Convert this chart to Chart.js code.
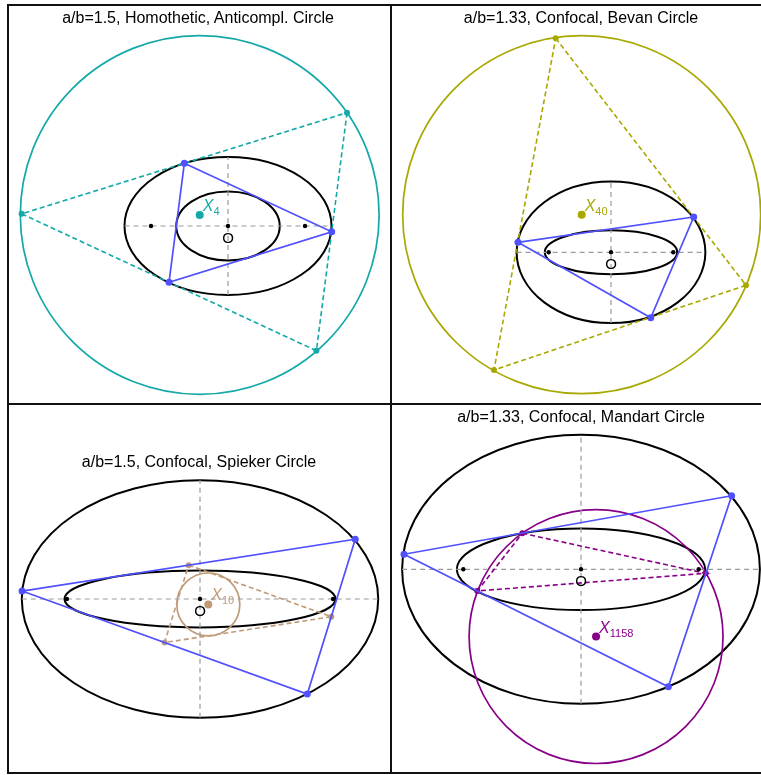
<!DOCTYPE html>
<html>
<head>
<meta charset="utf-8">
<script src="https://cdn.jsdelivr.net/npm/chart.js@4"></script>
<style>
  body { margin:0; background:#fff; width:761px; height:775px; overflow:hidden; position:relative;
         font-family:"Liberation Sans", Arial, sans-serif; }
  .rule { position:absolute; background:#111; }
  .panel { position:absolute; }
  .title { position:absolute; width:400px; text-align:center; font-size:16px; line-height:18px; color:#000; }
</style>
</head>
<body>

<script>
// ---- data (ellipse-centred units, b = 1) ----
const titles = [
  'a/b=1.5, Homothetic, Anticompl. Circle',
  'a/b=1.33, Confocal, Bevan Circle',
  'a/b=1.5, Confocal, Spieker Circle',
  'a/b=1.33, Confocal, Mandart Circle'
];

// panel 1 - homothetic pair, anticomplementary triangle
const homTri      = [[-0.633, 0.909], [1.503, -0.083], [-0.855, -0.816]];
const homAnti     = [[1.725, 1.642], [1.281, -1.808], [-2.991, 0.176]];
const homEllipses = [[1.5, 1], [0.75, 0.5]];
const homFoci     = [[-1.116, 0], [1.116, 0]];
const homCircle   = [-0.41, 0.16, 2.6];

// panel 2 - confocal pair, excentral triangle
const bevTri      = [[-1.314, 0.141], [1.168, 0.499], [0.561, -0.924]];
const bevExc      = [[-0.781, 3.023], [1.907, -0.466], [-1.653, -1.662]];
const bevEllipses = [[1.333, 1], [0.935, 0.31]];
const bevFoci     = [[-0.88, 0], [0.88, 0]];
const bevCircle   = [-0.414, 0.531, 2.528];

// panel 3 - confocal pair, medial triangle
const spiTri      = [[-1.498, 0.067], [1.307, 0.503], [0.903, -0.8]];
const spiMed      = [[-0.096, 0.285], [1.105, -0.149], [-0.298, -0.367]];
const spiEllipses = [[1.5, 1], [1.141, 0.239]];
const spiFoci     = [[-1.12, 0], [1.12, 0]];
const spiCircle   = [0.07, -0.046, 0.265];

// panel 4 - confocal pair, extouch triangle
const manTri      = [[-1.316, 0.112], [1.12, 0.547], [0.649, -0.873]];
const manExt      = [[-0.436, 0.268], [0.927, -0.03], [-0.771, -0.161]];
const manEllipses = [[1.33, 1], [0.923, 0.303]];
const manFoci     = [[-0.875, 0], [0.875, 0]];
const manCircle   = [0.112, -0.5, 0.944];

// ---- layout ----
const BLUE = '#5050ff';
const panels = [
  { box:[9, 6, 381, 397],   o:[228, 226],   s:69,    title:[198, 18],
    tri:homTri, aux:homAnti, ell:homEllipses, foci:homFoci, circ:homCircle,
    color:'#14a8a8', lab:'X', sub:'4' },
  { box:[392, 6, 369, 397], o:[611, 252.3], s:70.8,  title:[581, 18],
    tri:bevTri, aux:bevExc, ell:bevEllipses, foci:bevFoci, circ:bevCircle,
    color:'#a8a800', lab:'X', sub:'40' },
  { box:[9, 405, 381, 367], o:[200, 599],   s:118.8, title:[199, 462],
    tri:spiTri, aux:spiMed, ell:spiEllipses, foci:spiFoci, circ:spiCircle,
    color:'#bf9b77', lab:'X', sub:'10' },
  { box:[392, 405, 369, 367], o:[581, 569.3], s:134.5, title:[581, 417],
    tri:manTri, aux:manExt, ell:manEllipses, foci:manFoci, circ:manCircle,
    color:'#870087', lab:'X', sub:'1158' }
];

// frame rules
[[7, 4, 754, 2], [7, 4, 2, 770], [390, 4, 2, 770], [7, 403, 754, 2], [7, 772, 754, 2]]
  .forEach(([l, t, w, h]) => {
    const d = document.createElement('div');
    d.className = 'rule';
    d.style.cssText = `left:${l}px;top:${t}px;width:${w}px;height:${h}px`;
    document.body.appendChild(d);
  });

const pts = arr => arr.map(([x, y]) => ({ x, y }));
const loop = arr => pts([...arr, arr[0]]);

// conics + labels drawn through the chart scales
const geoPlugin = {
  id: 'geo',
  beforeDatasetsDraw(chart, args, opts) {
    const { ctx, chartArea, scales: { x, y } } = chart;
    ctx.save();
    ctx.beginPath();
    ctx.rect(chartArea.left, chartArea.top, chartArea.width, chartArea.height);
    ctx.clip();
    for (const c of opts.conics || []) {
      const cx = x.getPixelForValue(c.cx), cy = y.getPixelForValue(c.cy);
      const rx = Math.abs(x.getPixelForValue(c.cx + c.rx) - cx);
      const ry = Math.abs(y.getPixelForValue(c.cy + c.ry) - cy);
      ctx.beginPath();
      ctx.ellipse(cx, cy, rx, ry, 0, 0, Math.PI * 2);
      ctx.strokeStyle = c.color;
      ctx.lineWidth = c.width;
      ctx.stroke();
    }
    ctx.restore();
  },
  afterDatasetsDraw(chart, args, opts) {
    const { ctx, scales: { x, y } } = chart;
    ctx.save();
    for (const l of opts.labels || []) {
      const px = x.getPixelForValue(l.x) + l.dx, py = y.getPixelForValue(l.y) + l.dy;
      ctx.fillStyle = l.color;
      ctx.textBaseline = 'alphabetic';
      ctx.font = (l.italic ? 'italic ' : '') + l.size + 'px "Liberation Sans", Arial, sans-serif';
      ctx.textAlign = l.align || 'left';
      ctx.fillText(l.text, px, py);
      if (l.sub) {
        const w = ctx.measureText(l.text).width;
        ctx.font = '11px "Liberation Sans", Arial, sans-serif';
        ctx.textAlign = 'left';
        ctx.fillText(l.sub, px + w, py + 4);
      }
    }
    ctx.restore();
  }
};

panels.forEach((p, i) => {
  const [left, top, w, h] = p.box;
  const wrap = document.createElement('div');
  wrap.className = 'panel';
  wrap.style.cssText = `left:${left}px;top:${top}px;width:${w}px;height:${h}px`;
  const cv = document.createElement('canvas');
  cv.width = w; cv.height = h;
  cv.style.width = w + 'px'; cv.style.height = h + 'px';
  wrap.appendChild(cv);
  document.body.appendChild(wrap);

  const t = document.createElement('div');
  t.className = 'title';
  t.style.left = (p.title[0] - 200) + 'px';
  t.style.top = (p.title[1] - 9) + 'px';
  t.textContent = titles[i];
  document.body.appendChild(t);

  const [ox, oy] = p.o;
  const xMin = (left - ox) / p.s, xMax = (left + w - ox) / p.s;
  const yMax = (oy - top) / p.s, yMin = (oy - top - h) / p.s;
  const [A, B] = p.ell[0];
  const [cx, cy, r] = p.circ;

  new Chart(cv, {
    type: 'scatter',
    data: {
      datasets: [
        { data: [{ x: cx, y: cy }], pointRadius: 4, backgroundColor: p.color, borderWidth: 0 },
        { data: pts([[0, 0], ...p.foci]), pointRadius: 2.2, backgroundColor: '#000', borderWidth: 0 },
        { data: pts(p.tri), pointRadius: 3.5, backgroundColor: BLUE, borderWidth: 0 },
        { data: loop(p.tri), showLine: true, borderColor: BLUE, borderWidth: 1.7, pointRadius: 0 },
        { data: pts(p.aux), pointRadius: 3, backgroundColor: p.color, borderWidth: 0 },
        { data: loop(p.aux), showLine: true, borderColor: p.color, borderWidth: 1.6,
          borderDash: [5, 3], pointRadius: 0 },
        { data: pts([[-A, 0], [A, 0]]), showLine: true, borderColor: '#9a9a9a', borderWidth: 1.2,
          borderDash: [5, 4], pointRadius: 0 },
        { data: pts([[0, -B], [0, B]]), showLine: true, borderColor: '#9a9a9a', borderWidth: 1.2,
          borderDash: [5, 4], pointRadius: 0 }
      ]
    },
    options: {
      responsive: false,
      animation: false,
      devicePixelRatio: 1,
      layout: { padding: 0, autoPadding: false },
      scales: {
        x: { type: 'linear', display: false, min: xMin, max: xMax },
        y: { type: 'linear', display: false, min: yMin, max: yMax }
      },
      plugins: {
        legend: { display: false },
        tooltip: { enabled: false },
        geo: {
          conics: [
            ...p.ell.map(([a, b]) => ({ cx: 0, cy: 0, rx: a, ry: b, color: '#000', width: 2 })),
            { cx, cy, rx: r, ry: r, color: p.color, width: 1.7 }
          ],
          labels: [
            { x: 0, y: 0, dx: 0, dy: 17, text: 'O', size: 15, color: '#000', align: 'center' },
            { x: cx, y: cy, dx: 3, dy: -4, text: p.lab, sub: p.sub, size: 16, italic: true, color: p.color }
          ]
        }
      }
    },
    plugins: [geoPlugin]
  });
});
</script>
</body>
</html>
